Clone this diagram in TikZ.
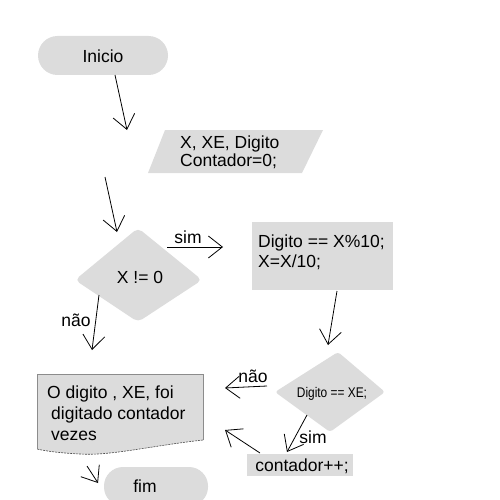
\documentclass[tikz,border=0pt]{standalone}
\usepackage{fontspec}
\setmainfont{Liberation Sans}
\usetikzlibrary{arrows.meta}
\definecolor{boxgray}{RGB}{220,220,220}
\begin{document}
\begin{tikzpicture}[x=1pt,y=-1pt,
  every node/.style={font=\fontsize{17.5}{21}\selectfont, inner sep=0pt},
  shapefill/.style={fill=boxgray},
  conn/.style={-{Straight Barb[length=14pt,width=22pt]}, line width=0.8pt},
  lbl/.style={anchor=base}]
\useasboundingbox (0,0) rectangle (500,500);

% Inicio
\fill[shapefill,rounded corners=19.5pt] (38,36) rectangle (168,75);
\node (inicio) at (103,56) {Inicio};

% entrada
\fill[shapefill] (165,130) -- (323,130) -- (302,173) -- (148,173) -- cycle;
\node[anchor=base west] (ent1) at (180,148) {X, XE, Digito};
\node[anchor=base west] (ent2) at (180,166) {Contador=0;};

% decision 1
\fill[shapefill, rounded corners=5pt] (75,280) -- (138,228) -- (202,280) -- (138,322) -- cycle;
\node[anchor=base] (cond1) at (140,283) {X != 0};

% process
\fill[shapefill] (252,222) rectangle (393,290);
\node[anchor=base west] (proc1) at (258,247) {Digito == X\%10;};
\node[anchor=base west] (proc2) at (258,267) {X=X/10;};

% decision 2
\fill[shapefill, rounded corners=3pt] (275,392) -- (338,352) -- (385,392) -- (330,432) -- cycle;
\node[anchor=base] (cond2) at (332,397) {\fontsize{14}{16}\selectfont\scalebox{0.85}[1]{Digito == XE;}};

% contador
\fill[shapefill] (247,454) rectangle (353,476);
\node[anchor=base] (cont) at (302,471) {contador++;};

% document
\fill[shapefill] (37,374) -- (203,374) -- (203,440) .. controls (150,446) and (110,456) .. (80,454) .. controls (60,453) and (45,451) .. (37,449) -- cycle;
\draw[black!45, line width=0.6pt] (37,449) -- (37,374) -- (203,374) -- (203,440);
\draw[black!70, line width=0.6pt, dash pattern=on 2pt off 1pt] (203,440) .. controls (150,446) and (110,456) .. (80,454) .. controls (60,453) and (45,451) .. (37,449);
\node[anchor=base west] (doc1) at (47,398) {O digito , XE, foi};
\node[anchor=base west] (doc2) at (51,419) {digitado contador};
\node[anchor=base west] (doc3) at (51,440) {vezes};

% fim
\fill[shapefill, rounded corners=19pt] (104,467) rectangle (208,506);
\node[anchor=base] (fimt) at (145,492) {fim};

% connector coordinates
\coordinate (a1) at (115,75);   \coordinate (b1) at (127,130);
\coordinate (a2) at (105,177);  \coordinate (b2) at (117,232);
\coordinate (a3) at (167,247);  \coordinate (b3) at (223,247);
\coordinate (a4) at (99,295);   \coordinate (b4) at (92,350);
\coordinate (a5) at (337,291);  \coordinate (b5) at (328,345);
\coordinate (a6) at (267,386);  \coordinate (b6) at (225,388);
\coordinate (a7) at (307,415);  \coordinate (b7) at (287,452);
\coordinate (a8) at (260,453);  \coordinate (b8) at (225,430);
\coordinate (a9) at (87,466);   \coordinate (b9) at (98,483);

\draw[conn] (a1) -- (b1);
\draw[conn] (a2) -- (b2);
\draw[conn] (a3) -- (b3);
\draw[conn] (a4) -- (b4);
\draw[conn] (a5) -- (b5);
\draw[conn] (a6) -- (b6);
\draw[conn] (a7) -- (b7);
\draw[conn] (a8) -- (b8);
\draw[conn] (a9) -- (b9);

% labels
\node[lbl] (lsim1) at (188,243) {sim};
\node[lbl] (lnao1) at (76,326) {não};
\node[lbl] (lnao2) at (253,382) {não};
\node[lbl] (lsim2) at (313,443) {sim};
\end{tikzpicture}
\end{document}
